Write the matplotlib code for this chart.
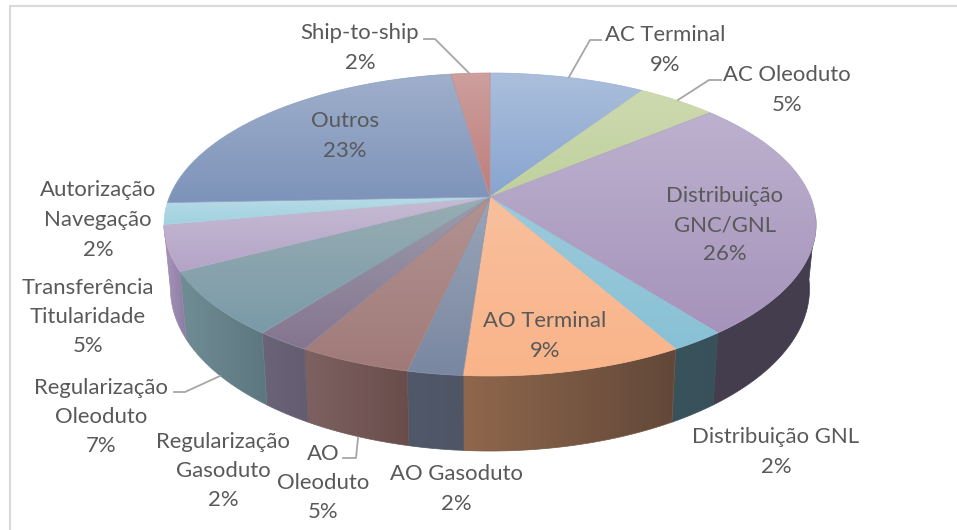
import numpy as np
import matplotlib
matplotlib.use("Agg")
import matplotlib.pyplot as plt
from matplotlib.colors import LinearSegmentedColormap
from matplotlib.patches import Polygon

plt.rcParams['font.family'] = ['Lato', 'DejaVu Sans']

# slices, clockwise from 12 o'clock
names = ["AC Terminal", "AC Oleoduto", "Distribuição\nGNC/GNL", "Distribuição GNL", "AO Terminal",
         "AO Gasoduto", "AO\nOleoduto", "Regularização\nGasoduto", "Regularização\nOleoduto",
         "Transferência\nTitularidade", "Autorização\nNavegação", "Outros", "Ship-to-ship"]
shares = [9.2, 4.7, 25.7, 2.3, 9.2, 2.3, 4.7, 2.3, 6.9, 4.8, 2.3, 23.3, 2.3]

# top face colours (upper, lower), wall colours (left, right)
top_cols = [("#abbfdc", "#88a4cf"), ("#cddab0", "#bfd09c"), ("#bcb1ce", "#a693bb"), ("#9dcada", "#88c1d6"),
            ("#f8bf9d", "#fab489"), ("#9aa5b8", "#7a87a1"), ("#b29392", "#a07a78"), ("#9c9cab", "#85758f"),
            ("#98adb3", "#7a9aa8"), ("#c5bcd4", "#b5a3c7"), ("#b8dbe6", "#a1d2e0"), ("#9fafcc", "#7d93b9"),
            ("#cd9f9d", "#bd7e7c")]
wall_cols = [("#5b7399", "#5b7399"), ("#7d8c5e", "#7d8c5e"), ("#443d4e", "#453e4f"), ("#38535c", "#38505a"),
             ("#8f674c", "#624839"), ("#505969", "#4e5666"), ("#7e6161", "#694d4b"), ("#6b6477", "#645c70"),
             ("#708c94", "#5d7781"), ("#a897ba", "#8c7ba1"), ("#a0c4d0", "#a0c4d0"), ("#5b6f94", "#5b6f94"),
             ("#9b6563", "#9b6563")]

label_pos = [(665, 50), (787, 90), (725, 225), (776, 452), (545, 336), (456, 489), (323, 483),
             (223, 471), (101, 417), (88, 317), (98, 220), (345, 136), (360, 48)]
leaders = {0: [(601, 40), (590, 40), (569, 77)], 1: [(721, 80), (709, 80), (678, 100)],
           6: [(343, 458), (356, 458), (358, 438)], 8: [(174, 392), (185, 392), (220, 376)],
           12: [(424, 39), (435, 39), (469, 73)]}

# pie geometry in pixels
cx, cy = 490, 197
R, ry, k = 320.6, 146.5, 0.1815
wall_from, wall_to = 0.27, 0.72   # part of the circle where the wall shows
line_h = 29.5


def rim(frac):
    # frac = share of the circle clockwise from the top, with perspective
    th = np.pi / 2 - 2 * np.pi * np.asarray(frac)
    w = 1 + k * np.sin(th)
    return cx + R * np.cos(th) / w, cy - ry * np.sin(th) / w


def lower(x, y):
    # same point on the bottom edge of the wall
    return cx + (x - cx) * 0.98, cy + 62.5 + (y - cy) * 1.07


def grad_fill(ax, pts, c0, c1, vertical=True):
    pts = np.array(pts)
    cmap = LinearSegmentedColormap.from_list("g", [c0, c1])
    g = np.linspace(0, 1, 128)
    g = g.reshape(-1, 1) if vertical else g.reshape(1, -1)
    ext = [pts[:, 0].min(), pts[:, 0].max(), pts[:, 1].max(), pts[:, 1].min()]
    im = ax.imshow(g, cmap=cmap, extent=ext, aspect="auto", interpolation="bilinear", vmin=0, vmax=1, zorder=2)
    clip = Polygon(pts, closed=True, transform=ax.transData)
    im.set_clip_path(clip)
    mid = cmap(0.5)
    ax.add_patch(Polygon(pts, closed=True, facecolor="none", edgecolor=mid, lw=0.5, zorder=2))


fig = plt.figure(figsize=(9.57, 5.3), dpi=100)
ax = fig.add_axes([0, 0, 1, 1])

edges = np.cumsum([0] + shares) / sum(shares)

# walls first, only the front part
for i in range(len(shares)):
    a = max(edges[i], wall_from)
    b = min(edges[i + 1], wall_to)
    if a >= b:
        continue
    f = np.linspace(a, b, 60)
    x, y = rim(f)
    xl, yl = lower(x, y)
    pts = list(zip(x, y)) + list(zip(xl[::-1], yl[::-1]))
    c0, c1 = wall_cols[i]
    grad_fill(ax, pts, c0, c1, vertical=False)

# then the top face
for i in range(len(shares)):
    f = np.linspace(edges[i], edges[i + 1], 60)
    x, y = rim(f)
    pts = [(cx, cy)] + list(zip(x, y))
    c0, c1 = top_cols[i]
    grad_fill(ax, pts, c0, c1)

# labels line by line, the blocks of two of them interlock
for i, nm in enumerate(names):
    lines = (nm + f"\n{round(shares[i])}%").split("\n")
    for j, line in enumerate(lines):
        ax.text(label_pos[i][0], label_pos[i][1] + (j - (len(lines) - 1) / 2) * line_h, line,
                ha="center", va="center", fontsize=15.9, color="#595959", zorder=5)

for pts in leaders.values():
    ax.plot([p[0] for p in pts], [p[1] for p in pts], color="#a6a6a6", lw=1.3, zorder=4)

# chart frame, only top and left are in the picture
ax.plot([957, 10, 10], [6, 6, 530], color="#d9d9d9", lw=1.5, zorder=1)

ax.set_xlim(0, 957)
ax.set_ylim(530, 0)
ax.axis("off")
fig.savefig("out.png", dpi=100, facecolor="white")
